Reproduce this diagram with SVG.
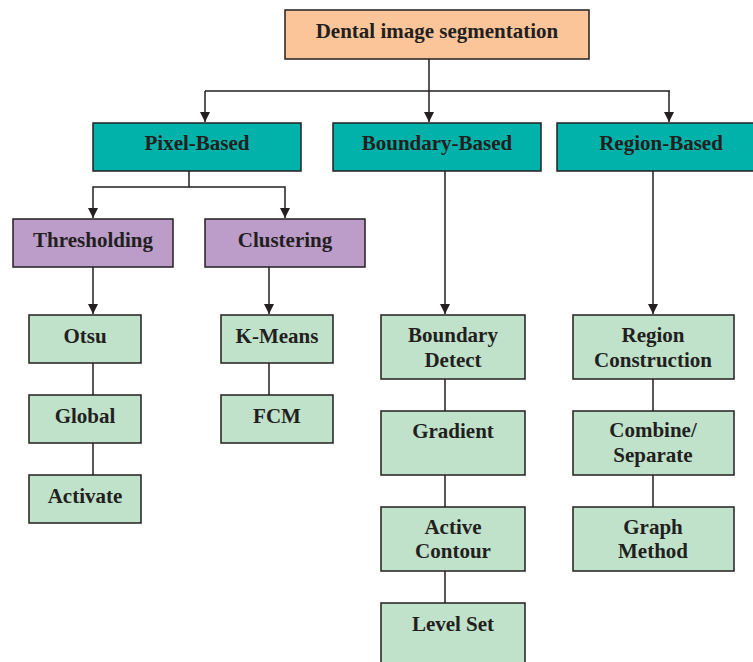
<svg xmlns="http://www.w3.org/2000/svg" width="753" height="662" viewBox="0 0 753 662">
<defs>
<marker id="arr" viewBox="0 0 10 10" refX="10" refY="5" markerWidth="10" markerHeight="10" markerUnits="userSpaceOnUse" orient="auto">
<path d="M0,0 L10,5 L0,10 Z" fill="#231F20"/>
</marker>
<style>
rect{stroke:#231F20;stroke-width:1.5}
.peach{fill:#FBC599}
.teal{fill:#00B2A9}
.purple{fill:#BC9DCA}
.green{fill:#C0E2CA}
text{font-family:"Liberation Serif","Times New Roman",serif;font-weight:bold;font-size:21px;fill:#231F20;text-anchor:middle}
.c line,.c path{stroke:#231F20;stroke-width:1.5;fill:none}
</style>
</defs>
<rect x="0" y="0" width="753" height="662" fill="#fff" style="stroke:none"/>
<g class="c" id="connectors">
<path d="M429,59 V122" marker-end="url(#arr)"/>
<path d="M205,91 H670"/>
<path d="M205,91 V122" marker-end="url(#arr)"/>
<path d="M669,91 V122" marker-end="url(#arr)"/>
<path d="M189,171 V187 H93 V218" marker-end="url(#arr)"/>
<path d="M189,187 H285 V218" marker-end="url(#arr)"/>
<path d="M93,267 V314" marker-end="url(#arr)"/>
<path d="M269,267 V314" marker-end="url(#arr)"/>
<path d="M445,171 V314" marker-end="url(#arr)"/>
<path d="M653,171 V314" marker-end="url(#arr)"/>
<line x1="93" y1="363" x2="93" y2="395"/>
<line x1="93" y1="443" x2="93" y2="475"/>
<line x1="269" y1="363" x2="269" y2="395"/>
<line x1="445" y1="379" x2="445" y2="411"/>
<line x1="445" y1="475" x2="445" y2="507"/>
<line x1="445" y1="571" x2="445" y2="603"/>
<line x1="653" y1="379" x2="653" y2="411"/>
<line x1="653" y1="475" x2="653" y2="507"/>
</g>
<g id="root"><rect class="peach" x="285" y="10" width="304" height="49"/><text x="437" y="38">Dental image segmentation</text></g>
<g id="pixel"><rect class="teal" x="93" y="123" width="208" height="48"/><text x="197" y="150">Pixel-Based</text></g>
<g id="boundary"><rect class="teal" x="333" y="123" width="208" height="48"/><text x="437" y="150">Boundary-Based</text></g>
<g id="region"><rect class="teal" x="557" y="123" width="208" height="48"/><text x="661" y="150">Region-Based</text></g>
<g id="thresholding"><rect class="purple" x="13" y="219" width="160" height="48"/><text x="93" y="247">Thresholding</text></g>
<g id="clustering"><rect class="purple" x="205" y="219" width="160" height="48"/><text x="285" y="247">Clustering</text></g>
<g id="otsu"><rect class="green" x="29" y="315" width="112" height="48"/><text x="85" y="343">Otsu</text></g>
<g id="global"><rect class="green" x="29" y="395" width="112" height="48"/><text x="85" y="423">Global</text></g>
<g id="activate"><rect class="green" x="29" y="475" width="112" height="48"/><text x="85" y="503">Activate</text></g>
<g id="kmeans"><rect class="green" x="221" y="315" width="112" height="48"/><text x="277" y="343">K-Means</text></g>
<g id="fcm"><rect class="green" x="221" y="395" width="112" height="48"/><text x="277" y="423">FCM</text></g>
<g id="bdetect"><rect class="green" x="381" y="315" width="144" height="64"/><text x="453" y="342">Boundary</text><text x="453" y="367">Detect</text></g>
<g id="gradient"><rect class="green" x="381" y="411" width="144" height="64"/><text x="453" y="438">Gradient</text></g>
<g id="activecontour"><rect class="green" x="381" y="507" width="144" height="64"/><text x="453" y="534">Active</text><text x="453" y="558">Contour</text></g>
<g id="levelset"><rect class="green" x="381" y="603" width="144" height="64"/><text x="453" y="631">Level Set</text></g>
<g id="rconstruction"><rect class="green" x="573" y="315" width="161" height="64"/><text x="653" y="342">Region</text><text x="653" y="367">Construction</text></g>
<g id="combine"><rect class="green" x="573" y="411" width="161" height="64"/><text x="653" y="437">Combine/</text><text x="653" y="462">Separate</text></g>
<g id="graph"><rect class="green" x="573" y="507" width="161" height="64"/><text x="653" y="534">Graph</text><text x="653" y="558">Method</text></g>
</svg>
